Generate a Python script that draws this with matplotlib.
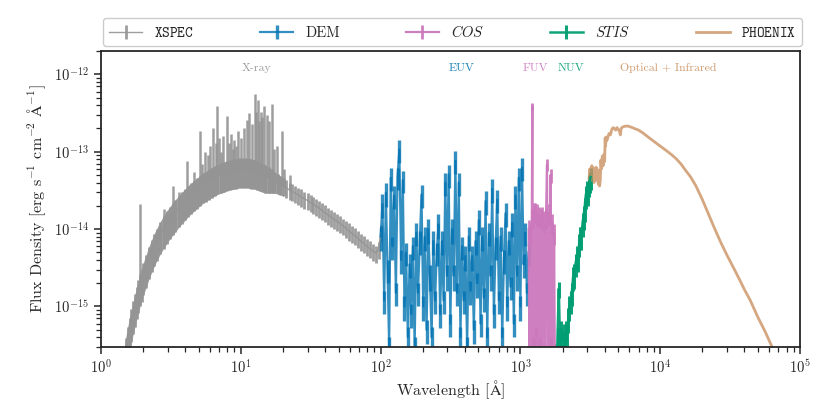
import numpy as np
import matplotlib
matplotlib.use("Agg")
import matplotlib.pyplot as plt
from matplotlib.ticker import LogLocator, NullFormatter

plt.rcParams.update({
    "font.family": ["cmr10", "DejaVu Serif"],
    "mathtext.fontset": "cm",
    "axes.formatter.use_mathtext": True,
    "axes.edgecolor": "#262626",
    "axes.linewidth": 1.3,
    "xtick.color": "#262626",
    "ytick.color": "#262626",
    "text.color": "#262626",
    "axes.labelcolor": "#262626",
})

# ── palette (seaborn colorblind) ─────────────────────────────────────────────
C_XSPEC = "#949494"
C_DEM = "#0173b2"
C_COS = "#cc78bc"
C_STIS = "#029e73"
C_PHX = "#ca9161"

UNIT = 1e-15  # flux values below are in 1e-15 erg/s/cm2/A

# ── XSPEC (X-ray): continuum + error, and emission lines ─────────────────────
xspec_wl = [1.45, 1.5, 1.55, 1.6, 1.65, 1.7, 1.75, 1.8, 1.85, 1.9, 1.95, 2.0,
            2.1, 2.2, 2.3, 2.4, 2.5, 2.65, 2.8, 2.95, 3.1, 3.25, 3.4, 3.6,
            3.8, 4.0, 4.2, 4.4, 4.6, 4.85, 5.1, 5.35, 5.6, 5.9, 6.2, 6.5,
            6.8, 7.2, 7.6, 8.0, 8.4, 8.8, 9.2, 9.7, 10.2, 10.7, 11.2, 11.8,
            12.4, 13.0, 13.6, 14.3, 15.0, 15.8, 16.6, 17.4, 18.3, 19.2, 20.2,
            21.2, 22.3, 23.4, 24.6, 25.8, 27.1, 28.5, 30, 31.5, 33, 34.7,
            36.5, 38.3, 40.2, 42.2, 44.3, 46.5, 48.8, 51.3, 53.9, 56.6, 59.4,
            62.4, 65.5, 68.8, 72.2, 75.8, 79.6, 83.6, 87.8, 92.2, 96.8, 100]
xspec_flux = [0.18, 0.27, 0.37, 0.5, 0.64, 0.8, 1.0, 1.25, 1.5, 1.8, 2.1, 2.5,
              3.2, 4.1, 5.0, 6.0, 7.0, 8.6, 10.2, 11.8, 13.4, 15, 16.6, 18.8,
              21, 23, 25.5, 27.5, 29.5, 32, 34.5, 37, 39, 41.5, 44, 46,
              48, 50, 52, 54, 55, 56, 57, 58, 58, 58, 58, 57,
              56, 54, 52, 50, 48, 46, 44, 42, 40, 38, 36,
              34, 32, 30.5, 29, 27.5, 26, 24.5, 23.5, 22, 21, 19.5,
              18.5, 17.3, 16.2, 15.2, 14.2, 13.3, 12.5, 11.8, 11, 10.2, 9.5,
              8.8, 8.2, 7.6, 7.0, 6.5, 6.0, 5.6, 5.2, 4.9, 5.5, 9]
xspec_err = [0.08, 0.12, 0.17, 0.22, 0.29, 0.36, 0.45, 0.56, 0.67, 0.8, 0.95, 1.1,
             1.45, 1.85, 2.25, 2.7, 3.15, 3.85, 4.6, 5.3, 6.0, 6.7, 7.4, 8.3,
             9.2, 10, 11, 11.8, 12.6, 13.6, 14.6, 15.5, 16.4, 17.4, 18.5, 19.3,
             20, 21, 22, 22.5, 23, 23.5, 24, 24, 24, 24, 24, 24,
             23, 22, 21, 20, 19, 17, 15, 13, 11.5, 10.5, 9.5,
             8.5, 8, 7.6, 7.2, 6.9, 6.5, 6.1, 5.9, 5.5, 5.2, 4.9,
             4.6, 4.3, 4, 3.8, 3.5, 3.3, 3.1, 2.9, 2.7, 2.5, 2.4,
             2.2, 2.05, 1.9, 1.75, 1.6, 1.5, 1.4, 1.3, 1.2, 1.4, 2.2]
xline_wl = [1.9, 2.8, 3.25, 3.6, 4.1, 4.6, 5.1, 5.3, 5.5, 5.8, 6.0, 6.3,
            6.6, 6.8, 7.0, 7.2, 7.5, 7.9, 8.2, 8.5, 8.8, 9.0, 9.3, 9.6,
            10.1, 10.5, 11.0, 11.5, 12.0, 12.6, 12.9, 13.2, 13.5, 13.9, 14.2,
            14.7, 15.3, 15.8, 16.6, 17.3, 18.0, 19.6, 20.5, 22.3]
xline_base = [1.8, 9.5, 15, 18.8, 24, 29.5, 34.5, 36, 38, 41, 43, 45,
              47, 48, 49, 50, 51, 53, 54, 55, 56, 56.5, 57, 58,
              58, 58, 58, 58, 57, 56, 55, 54, 53, 51, 50,
              49, 47, 46, 44, 42, 41, 37, 35, 32]
xline_peak = [21, 18, 36, 30, 76, 55, 185, 70, 100, 90, 120, 200,
              130, 390, 150, 100, 160, 290, 130, 170, 110, 140, 120, 185,
              150, 200, 260, 320, 230, 550, 330, 460, 250, 330, 280,
              390, 300, 250, 410, 110, 120, 185, 60, 50]

# ── DEM (EUV) ────────────────────────────────────────────────────────────────
dem_wl = [100, 103, 106, 109, 112, 115, 118, 121.5, 125, 128.5, 132, 136,
          140, 144, 148, 152, 156.5, 161, 165.5, 170, 175, 180, 185, 190.5,
          196, 201.5, 207, 213, 219, 225, 231.5, 238, 245, 252, 259, 266.5,
          274, 282, 290, 298, 306.5, 315, 324, 333, 342.5, 352, 362, 372,
          382.5, 393, 404, 415.5, 427, 439, 451.5, 464, 477, 490.5, 504, 518,
          532.5, 547.5, 563, 578.5, 594.5, 611, 628, 645.5, 663.5, 682, 701,
          720.5, 740.5, 761, 782, 804, 826, 849, 872.5, 896.5, 921, 946.5,
          972.5, 999, 1026, 1054, 1083, 1112, 1142]
dem_flux = [8, 21, 1.2, 29.5, 3, 0.3, 46, 6, 27, 1.5, 47, 107,
            4, 43, 1.0, 5, 0.4, 3.5, 0.8, 6, 0.3, 9, 1.5, 7,
            28, 1.0, 8, 0.5, 10, 2.5, 0.4, 7, 1.2, 5, 11.5, 0.8,
            7, 1.2, 40, 2.5, 51, 0.6, 10, 2.5, 76, 1.5, 40, 0.4,
            6, 1.2, 4.5, 0.3, 8, 1.6, 4.5, 0.5, 7, 2, 13, 0.6,
            8, 1.3, 23, 0.4, 9, 2.5, 33, 0.8, 6, 24, 1.2,
            8, 0.4, 4, 16, 1.0, 7, 1.8, 12, 0.6, 27, 2.5,
            46, 1.0, 62, 3.5, 9, 1.5, 5]
dem_err = [2.8, 7, 0.4, 10, 1, 0.1, 15, 2, 9, 0.5, 15, 35,
           1.4, 14, 0.35, 1.7, 0.14, 1.2, 0.28, 2, 0.1, 3, 0.5, 2.4,
           9, 0.35, 2.8, 0.17, 3.5, 0.9, 0.14, 2.4, 0.4, 1.7, 4, 0.28,
           2.4, 0.4, 13, 0.9, 17, 0.2, 3.5, 0.9, 25, 0.5, 13, 0.14,
           2, 0.4, 1.6, 0.1, 2.8, 0.55, 1.6, 0.17, 2.4, 0.7, 4.5, 0.2,
           2.8, 0.45, 8, 0.14, 3, 0.9, 11, 0.28, 2, 8, 0.4,
           2.8, 0.14, 1.4, 5.5, 0.35, 2.4, 0.6, 4, 0.2, 9, 0.9,
           15, 0.35, 20, 1.2, 3, 0.5, 1.7]

# ── COS (FUV) ────────────────────────────────────────────────────────────────
cos_wl = [1145, 1160, 1175, 1190, 1205, 1216, 1228, 1245, 1262, 1280, 1298,
          1316, 1335, 1354, 1374, 1394, 1414, 1435, 1456, 1478, 1500, 1522,
          1548, 1570, 1594, 1618, 1642, 1666, 1690, 1715, 1740, 1765]
cos_flux = [10, 0.1, 9, 0.2, 14, 390, 0.3, 17, 0.15, 17, 0.4,
            16, 0.1, 15, 0.3, 14, 0.1, 15, 0.2, 13, 0.1, 14,
            68, 0.2, 16, 0.1, 50, 0.3, 12, 0.1, 9, 0.1]
cos_err = [3, 0.03, 2.7, 0.06, 4, 40, 0.1, 5, 0.05, 5, 0.12,
           5, 0.03, 4.5, 0.1, 4, 0.03, 4.5, 0.06, 4, 0.03, 4,
           12, 0.06, 5, 0.03, 10, 0.1, 3.5, 0.03, 2.7, 0.03]

# ── STIS (NUV) ───────────────────────────────────────────────────────────────
stis_wl = [1720, 1760, 1800, 1840, 1880, 1920, 1960, 2000, 2040, 2080, 2120,
           2160, 2200, 2240, 2280, 2330, 2380, 2430, 2480, 2530, 2580, 2630,
           2680, 2730, 2780, 2830, 2880, 2930, 2980, 3030, 3080, 3130, 3170]
stis_flux = [0.1, 0.25, 0.05, 0.4, 1.7, 0.3, 0.5, 0.2, 0.45, 0.3, 0.5,
             0.45, 0.7, 1.0, 1.2, 1.5, 2.4, 2.6, 3.6, 4.5, 4.2, 6.5,
             8.1, 8.0, 12, 14.8, 19, 27, 32, 30, 38, 42, 47]
stis_err = [0.03, 0.08, 0.02, 0.12, 0.4, 0.1, 0.15, 0.06, 0.14, 0.1, 0.15,
            0.14, 0.25, 0.35, 0.4, 0.5, 0.8, 0.9, 1.2, 1.5, 1.4, 2.2,
            2.7, 2.7, 4, 5, 6.5, 9, 10, 10, 12, 13, 15]

# ── PHOENIX (optical + IR model) ─────────────────────────────────────────────
phx_wl = [3100, 3130, 3160, 3200, 3240, 3280, 3320, 3360, 3400, 3440, 3480,
          3520, 3560, 3600, 3640, 3680, 3720, 3760, 3800, 3850, 3900, 3950,
          4000, 4030, 4060, 4100, 4150, 4200, 4300, 4400, 4500, 4600, 4700,
          4800, 4900, 5000, 5100, 5180, 5250, 5400, 5600, 5800, 6000, 6300,
          6600, 7000, 7500, 8000, 8500, 9000, 10000, 11000, 12000, 13000,
          14000, 15000, 16500, 18000, 20000, 22000, 24000, 27000, 30000,
          33000, 37000, 40000, 44000, 50000, 56000, 62000, 68000]
phx_flux = [45, 60, 42, 58, 66, 47, 62, 40, 57, 48, 63,
            43, 55, 38, 58, 36, 42, 78, 60, 88, 66, 92,
            75, 150, 118, 155, 140, 150, 172, 165, 195, 205, 198,
            190, 205, 195, 185, 165, 200, 210, 213, 215, 212, 205,
            198, 190, 175, 160, 147, 136, 118, 104, 92, 81,
            70, 59, 47, 36, 24, 16, 11, 6.8, 4.6,
            3.3, 2.2, 1.65, 1.2, 0.72, 0.48, 0.32, 0.2]

# region labels: (text, wavelength, colour)
regions = [("X-ray", 13, C_XSPEC), ("EUV", 376, C_DEM), ("FUV", 1271, C_COS),
           ("NUV", 2300, C_STIS), ("Optical + Infrared", 11400, C_PHX)]

fig, ax = plt.subplots(figsize=(8.3, 4.15), dpi=100)
fig.subplots_adjust(left=0.1217, right=0.964, bottom=0.164, top=0.877)


def spec(wl, flux, err, color, label, alpha, lw=1.0, elw=1.6):
    f = np.array(flux) * UNIT
    e = np.array(err) * UNIT
    return ax.errorbar(wl, f, yerr=e, color=color, alpha=alpha, lw=lw,
                       elinewidth=elw, capsize=0, label=label)


# X-ray band: filled envelope where the bins are dense, bars everywhere
xw = np.array(xspec_wl)
xf = np.array(xspec_flux) * UNIT
xe = np.array(xspec_err) * UNIT
dense = xw <= 21
ax.fill_between(xw[dense], (xf - xe)[dense], (xf + xe)[dense],
                color=C_XSPEC, alpha=0.9, lw=0)
ax.vlines(xline_wl, np.array(xline_base) * UNIT, np.array(xline_peak) * UNIT,
          color=C_XSPEC, alpha=0.9, lw=1.8)
h_x = spec(xspec_wl, xspec_flux, xspec_err, C_XSPEC, r"$\mathtt{XSPEC}$", 0.9,
           lw=1.0, elw=2.0)
h_d = spec(dem_wl, dem_flux, dem_err, C_DEM, "DEM", 0.8, lw=1.6, elw=2.4)
h_c = spec(cos_wl, cos_flux, cos_err, C_COS, r"$\mathit{COS}$", 0.95,
           lw=1.6, elw=2.0)
h_s = spec(stis_wl, stis_flux, stis_err, C_STIS, r"$\mathit{STIS}$", 0.95,
           lw=1.8, elw=2.2)
h_p, = ax.plot(phx_wl, np.array(phx_flux) * UNIT, color=C_PHX, alpha=0.8,
               lw=2.0, label=r"$\mathtt{PHOENIX}$")

for txt, wl, col in regions:
    ax.text(wl, 0.943, txt, color=col, fontsize=8.5, ha="center", va="center",
            alpha=0.9, transform=ax.get_xaxis_transform())

ax.set_xscale("log")
ax.set_yscale("log")
ax.set_xlim(1, 1e5)
ax.set_ylim(3e-16, 2e-12)
ax.set_yticks([1e-15, 1e-14, 1e-13, 1e-12])
ax.xaxis.set_minor_locator(LogLocator(base=10, subs=np.arange(2, 10), numticks=20))
ax.yaxis.set_minor_locator(LogLocator(base=10, subs=np.arange(2, 10), numticks=20))
ax.xaxis.set_minor_formatter(NullFormatter())
ax.yaxis.set_minor_formatter(NullFormatter())
ax.tick_params(which="major", direction="out", length=5, width=1.1, labelsize=10.5)
ax.tick_params(which="minor", direction="out", length=3.5, width=0.9)

ax.set_xlabel(r"Wavelength [$\mathrm{\AA}$]", fontsize=11.5, labelpad=1)
ax.set_ylabel(r"Flux Density [erg s$^{-1}$ cm$^{-2}$ $\mathrm{\AA}^{-1}$]",
              fontsize=11.5)

ax.legend(handles=[h_x, h_d, h_c, h_s, h_p],
          loc="lower left", bbox_to_anchor=(0.003, 1.017, 1.0, 0.1),
          mode="expand", ncol=5, borderaxespad=0, fontsize=10.5,
          handlelength=2.3, frameon=True, edgecolor="#cccccc", framealpha=1)

plt.savefig("out.png", dpi=100)
